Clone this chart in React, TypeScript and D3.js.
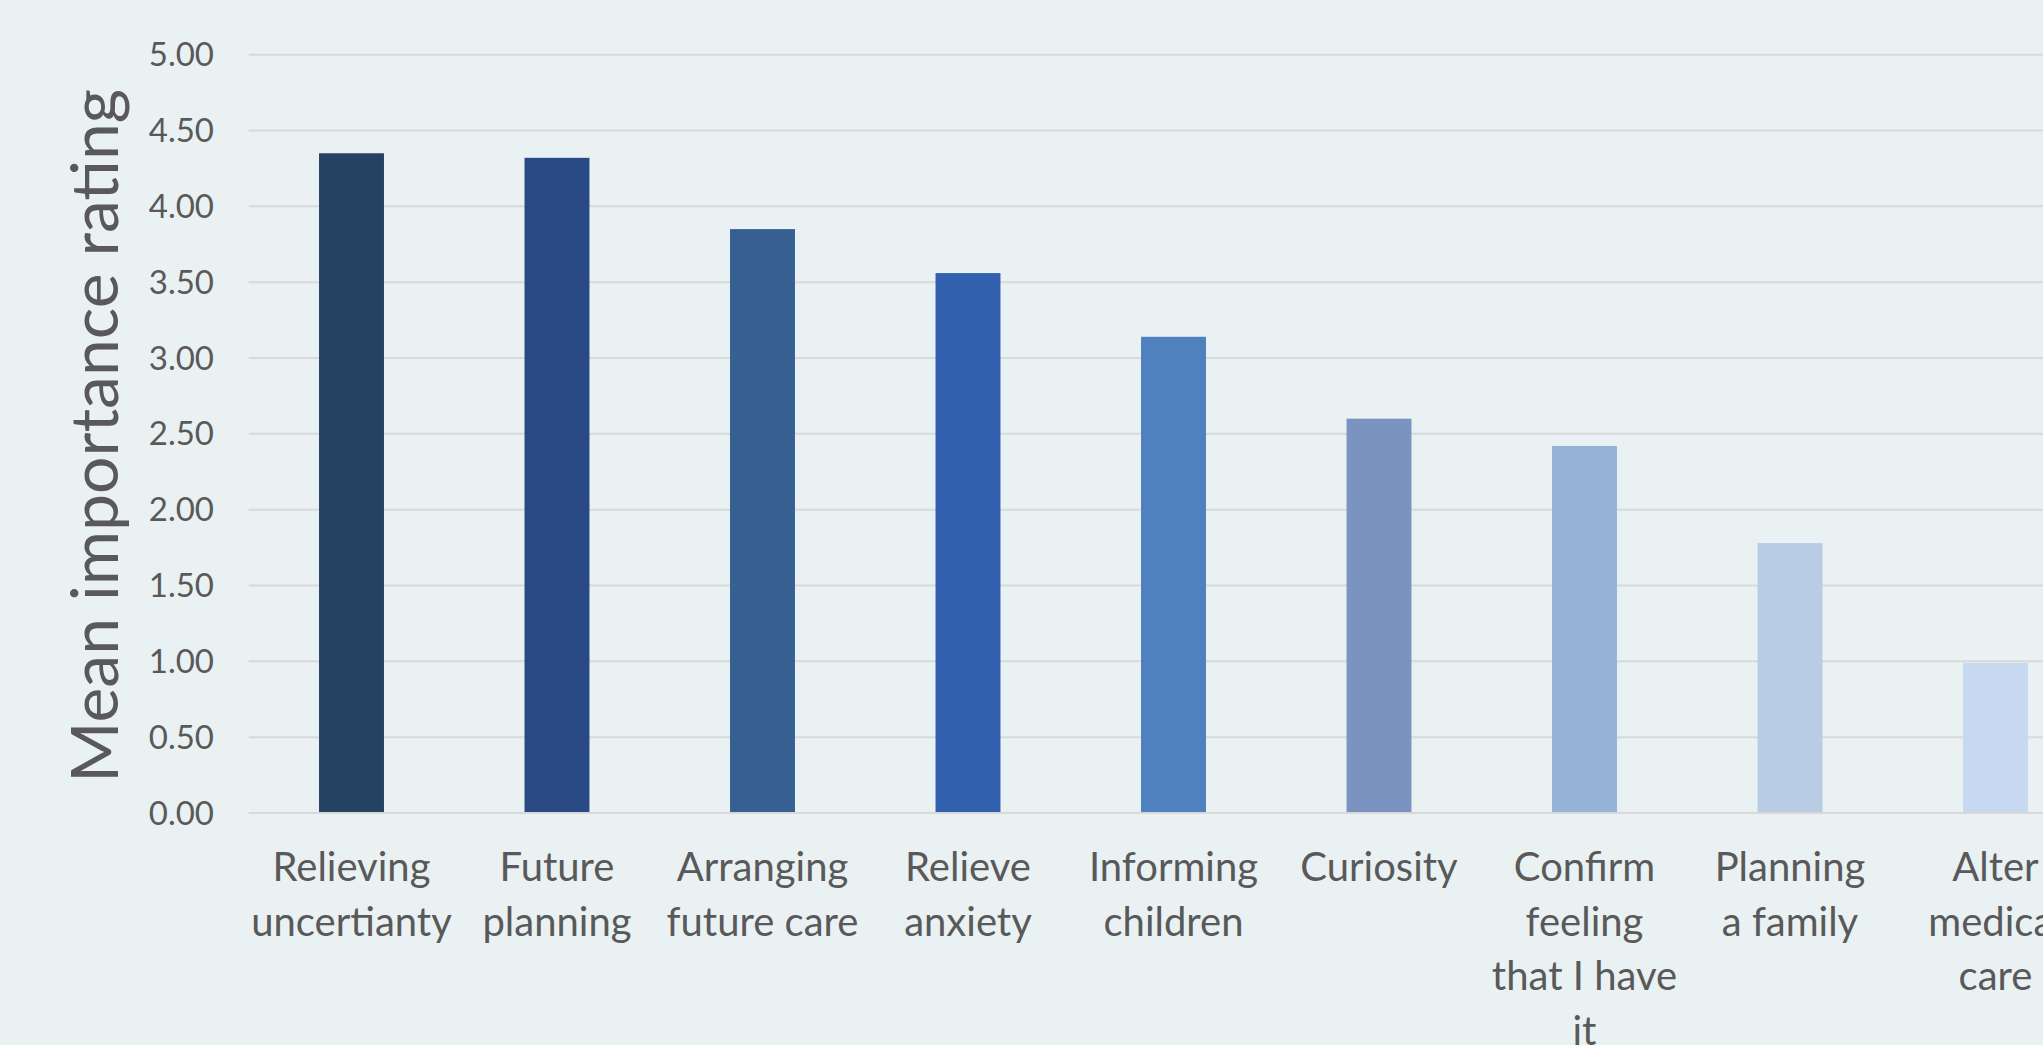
import React from "react";
import * as d3 from "d3";

// ---- data ----
const categories: string[] = [
  "Relieving uncertianty",
  "Future planning",
  "Arranging future care",
  "Relieve anxiety",
  "Informing children",
  "Curiosity",
  "Confirm feeling that I have it",
  "Planning a family",
  "Alter medical care",
];
const categoryLines: string[][] = [
  ["Relieving", "uncertianty"],
  ["Future", "planning"],
  ["Arranging", "future care"],
  ["Relieve", "anxiety"],
  ["Informing", "children"],
  ["Curiosity"],
  ["Confirm", "feeling", "that I have", "it"],
  ["Planning", "a family"],
  ["Alter", "medical", "care"],
];
const values: number[] = [4.35, 4.32, 3.85, 3.56, 3.14, 2.6, 2.42, 1.78, 0.99];
const barColors: string[] = [
  "#264263",
  "#294A84",
  "#366092",
  "#3260AE",
  "#4E81BD",
  "#7B93C1",
  "#95B3D7",
  "#B8CCE4",
  "#C6D9F0",
];
const yTicks: number[] = [0, 0.5, 1, 1.5, 2, 2.5, 3, 3.5, 4, 4.5, 5];
const yTitle = "Mean importance rating";

const W = 2043;
const H = 1045;
const FONT = "Lato, 'Open Sans', sans-serif";
const TEXT = "#595959";

export default function App() {
  const left = 248.75;
  const step = 205.5;
  const x = d3
    .scaleBand<string>()
    .domain(categories)
    .range([left, left + step * categories.length])
    .paddingInner(0.684)
    .paddingOuter(0.342);
  const y = d3.scaleLinear().domain([0, 5]).range([813, 54.7]);

  return (
    <svg
      width={W}
      height={H}
      style={{ position: "absolute", left: 0, top: 0, display: "block" }}
    >
      <rect x={0} y={0} width={W} height={H} fill="#E9F1F3" />
      {yTicks.map((t) => (
        <g key={t}>
          <line
            x1={left}
            x2={W}
            y1={y(t)}
            y2={y(t)}
            stroke="#D9D9D9"
            strokeWidth={2}
          />
          <text
            x={214}
            y={y(t)}
            dy="0.35em"
            textAnchor="end"
            fontFamily={FONT}
            fontSize={33}
            fill={TEXT}
          >
            {t.toFixed(2)}
          </text>
        </g>
      ))}
      {categories.map((c, i) => (
        <rect
          key={c}
          x={x(c)!}
          width={x.bandwidth()}
          y={y(values[i])}
          height={y(0) - y(values[i])}
          fill={barColors[i]}
        />
      ))}
      <line
        x1={left}
        x2={W}
        y1={y(0)}
        y2={y(0)}
        stroke="#D9D9D9"
        strokeWidth={2}
      />
      {categories.map((c, i) => {
        const cx = x(c)! + x.bandwidth() / 2;
        return (
          <text
            key={c}
            textAnchor="middle"
            fontFamily={FONT}
            fontSize={40}
            fill={TEXT}
          >
            {categoryLines[i].map((ln, j) => (
              <tspan key={j} x={cx} y={881 + j * 54.7}>
                {ln}
              </tspan>
            ))}
          </text>
        );
      })}
      <text
        transform={`translate(118, ${(y(0) + y(5)) / 2 + 2}) rotate(-90)`}
        textAnchor="middle"
        fontFamily={FONT}
        fontSize={66}
        fill={TEXT}
      >
        {yTitle}
      </text>
    </svg>
  );
}
